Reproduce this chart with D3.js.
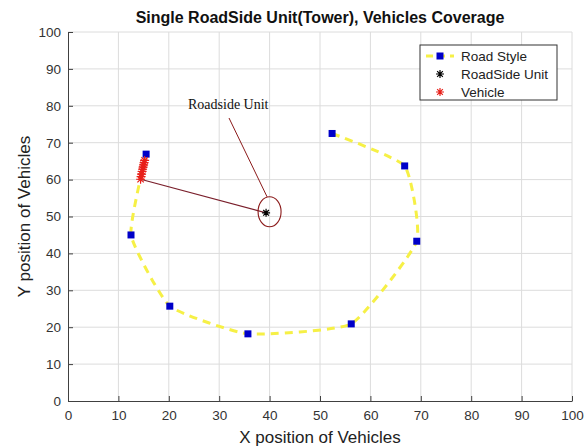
<!DOCTYPE html>
<html>
<head>
<meta charset="utf-8">
<script src="https://cdn.jsdelivr.net/npm/d3@7"></script>
<style>
    body { margin: 0; background: #fff; }
    svg { font-family: "Liberation Sans", Arial, sans-serif; }
</style>
</head>
<body>
<svg id="chart"></svg>
<script>
    // road waypoints (blue squares), in drawing order
    const roadX = [52.4, 66.8, 69.2, 56.2, 35.7, 20.2, 12.5, 15.5];
    const roadY = [72.5, 63.7, 43.3, 20.9, 18.2, 25.7, 45.0, 66.9];

    // road side unit
    const rsuX = [39.3];
    const rsuY = [51.0];

    // vehicles (red asterisks)
    const vehX = [14.4, 14.5, 14.6, 14.7, 14.8, 14.9, 15.0, 15.1, 15.2];
    const vehY = [60.1, 60.8, 61.5, 62.2, 62.8, 63.4, 64.0, 64.6, 65.2];

    const xTicks = d3.range(0, 101, 10);
    const yTicks = d3.range(0, 101, 10);

    const width = 586, height = 447;
    const margin = {top: 32, right: 14, bottom: 46, left: 68};

    const svg = d3.select("#chart")
        .attr("width", width)
        .attr("height", height);

    const x = d3.scaleLinear().domain([0, 100]).range([margin.left, width - margin.right]);
    const y = d3.scaleLinear().domain([0, 100]).range([height - margin.bottom, margin.top]);

    // grid
    svg.append("g")
        .selectAll("line")
        .data(xTicks.slice(1))
        .enter()
        .append("line")
        .attr("x1", d => x(d)).attr("x2", d => x(d))
        .attr("y1", y(0)).attr("y2", y(100))
        .attr("stroke", "#dcdcdc").attr("stroke-width", 1);
    svg.append("g")
        .selectAll("line")
        .data(yTicks.slice(1))
        .enter()
        .append("line")
        .attr("y1", d => y(d)).attr("y2", d => y(d))
        .attr("x1", x(0)).attr("x2", x(100))
        .attr("stroke", "#dcdcdc").attr("stroke-width", 1);

    // axes, MATLAB style ticks pointing inward
    const xAxis = svg.append("g")
        .attr("transform", `translate(0,${y(0)})`)
        .call(d3.axisBottom(x).tickValues(xTicks).tickSizeInner(-5).tickSizeOuter(0).tickPadding(9));
    const yAxis = svg.append("g")
        .attr("transform", `translate(${x(0)},0)`)
        .call(d3.axisLeft(y).tickValues(yTicks).tickSizeInner(-5).tickSizeOuter(0).tickPadding(7));

    [xAxis, yAxis].forEach(g => {
        g.select(".domain").attr("stroke", "#404040");
        g.selectAll(".tick line").attr("stroke", "#404040");
        g.selectAll(".tick text")
            .attr("fill", "#333")
            .style("font-size", "13.5px")
            .style("font-family", "'Liberation Sans', Arial, sans-serif");
    });

    // road curve
    const roadPts = roadX.map((d, i) => [d, roadY[i]]);
    const roadLine = d3.line()
        .x(d => x(d[0]))
        .y(d => y(d[1]))
        .curve(d3.curveCardinal.tension(0.55));

    svg.append("path")
        .attr("d", roadLine(roadPts))
        .attr("fill", "none")
        .attr("stroke", "#f6f046")
        .attr("stroke-width", 3)
        .attr("stroke-dasharray", "8,6");

    svg.append("g")
        .selectAll("rect")
        .data(roadPts)
        .enter()
        .append("rect")
        .attr("x", d => x(d[0]) - 3.5)
        .attr("y", d => y(d[1]) - 3.5)
        .attr("width", 7)
        .attr("height", 7)
        .attr("fill", "#0000c8");

    function asterisk(cx, cy, r) {
        const k = r * 0.707;
        return `M${cx - r},${cy}L${cx + r},${cy}M${cx},${cy - r}L${cx},${cy + r}` +
            `M${cx - k},${cy - k}L${cx + k},${cy + k}M${cx - k},${cy + k}L${cx + k},${cy - k}`;
    }

    // link from vehicle to RSU
    svg.append("line")
        .attr("x1", x(vehX[0]))
        .attr("y1", y(vehY[0]))
        .attr("x2", x(rsuX[0]))
        .attr("y2", y(rsuY[0]))
        .attr("stroke", "#7a1f2b")
        .attr("stroke-width", 1.2);

    // vehicles
    svg.append("g")
        .selectAll("path")
        .data(vehX.map((d, i) => [d, vehY[i]]))
        .enter()
        .append("path")
        .attr("d", d => asterisk(x(d[0]), y(d[1]), 4.5))
        .attr("stroke", "#e8201a")
        .attr("stroke-width", 1.2);

    // RSU
    svg.append("path")
        .attr("d", asterisk(x(rsuX[0]), y(rsuY[0]), 4))
        .attr("stroke", "#000")
        .attr("stroke-width", 1.2);

    // annotation ellipse + pointer line + text
    svg.append("ellipse")
        .attr("cx", x(rsuX[0]) + 3.5)
        .attr("cy", y(rsuY[0]) - 1)
        .attr("rx", 11.5)
        .attr("ry", 15)
        .attr("fill", "none")
        .attr("stroke", "#8b1a1a")
        .attr("stroke-width", 1.1);

    svg.append("line")
        .attr("x1", 229).attr("y1", 118)
        .attr("x2", x(rsuX[0]) + 1).attr("y2", y(rsuY[0]) - 16)
        .attr("stroke", "#8b1a1a")
        .attr("stroke-width", 1);

    svg.append("text")
        .attr("x", 188)
        .attr("y", 109)
        .style("font-family", "'Liberation Serif', 'Times New Roman', serif")
        .style("font-size", "14px")
        .attr("fill", "#111")
        .text("Roadside Unit");

    // title + axis labels
    svg.append("text")
        .attr("x", (x(0) + x(100)) / 2)
        .attr("y", 23)
        .attr("text-anchor", "middle")
        .style("font-size", "16px")
        .style("font-weight", "bold")
        .attr("fill", "#111")
        .text("Single RoadSide Unit(Tower), Vehicles Coverage");

    svg.append("text")
        .attr("x", (x(0) + x(100)) / 2)
        .attr("y", 443)
        .attr("text-anchor", "middle")
        .style("font-size", "17px")
        .attr("fill", "#222")
        .text("X position of Vehicles");

    svg.append("text")
        .attr("transform", `translate(30,${(y(0) + y(100)) / 2}) rotate(-90)`)
        .attr("text-anchor", "middle")
        .style("font-size", "17px")
        .attr("fill", "#222")
        .text("Y position of Vehicles");

    // legend
    const legend = svg.append("g").attr("transform", "translate(420,45)");
    legend.append("rect")
        .attr("width", 137).attr("height", 55)
        .attr("fill", "#fff").attr("stroke", "#333").attr("stroke-width", 1);

    const legendLabels = ["Road Style", "RoadSide Unit", "Vehicle"];
    legend.selectAll("text")
        .data(legendLabels)
        .enter()
        .append("text")
        .attr("x", 41)
        .attr("y", (d, i) => 15.5 + i * 18)
        .style("font-size", "13.5px")
        .attr("fill", "#222")
        .text(d => d);

    legend.append("line")
        .attr("x1", 6).attr("x2", 34).attr("y1", 11).attr("y2", 11)
        .attr("stroke", "#f6f046").attr("stroke-width", 3).attr("stroke-dasharray", "7,5");
    legend.append("rect")
        .attr("x", 16.5).attr("y", 7.5).attr("width", 7).attr("height", 7)
        .attr("fill", "#0000c8");
    legend.append("path")
        .attr("d", asterisk(20, 29, 4))
        .attr("stroke", "#000").attr("stroke-width", 1.2);
    legend.append("path")
        .attr("d", asterisk(20, 47, 4))
        .attr("stroke", "#e8201a").attr("stroke-width", 1.2);
</script>
</body>
</html>
